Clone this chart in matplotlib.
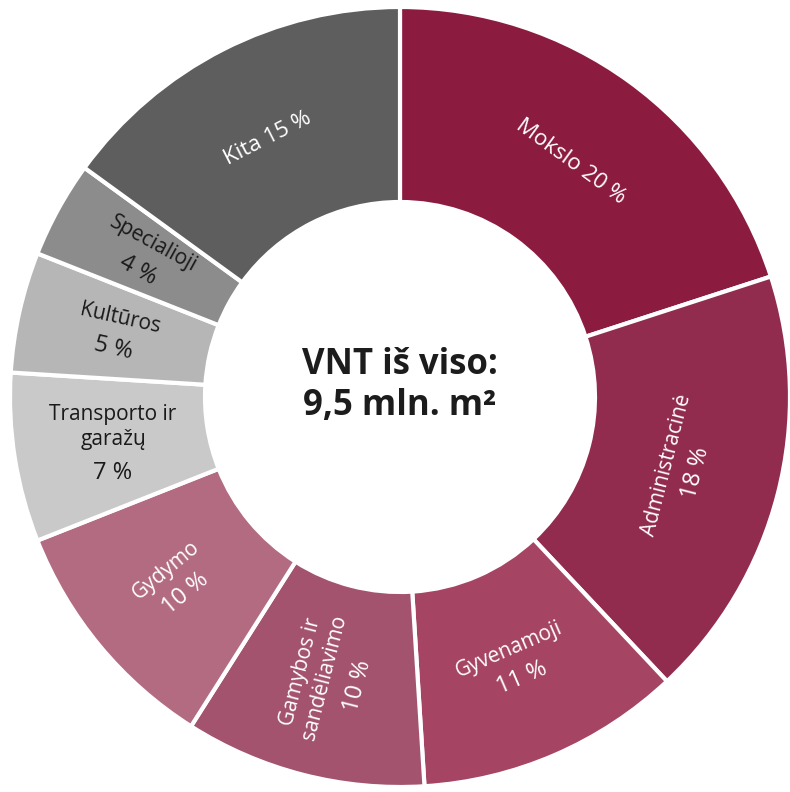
import numpy as np
import matplotlib
matplotlib.use("Agg")
import matplotlib.pyplot as plt

# data
labels = ["Mokslo", "Administracinė", "Gyvenamoji", "Gamybos ir\nsandėliavimo",
          "Gydymo", "Transporto ir\ngaražų", "Kultūros", "Specialioji", "Kita"]
shares = [20, 18, 11, 10, 10, 7, 5, 4, 15]
center_text = "VNT iš viso:\n9,5 mln. m²"

# style
colors = ["#8C1B40", "#922C4E", "#A64463", "#A3536E", "#B36B82",
          "#C9C9C9", "#B6B6B6", "#8C8C8C", "#5E5E5E"]
text_colors = ["white"] * 5 + ["#1a1a1a"] * 3 + ["white"]
# how each label is turned: along the ring ("tan"), across it ("rad") or flat
modes = ["tan", "tan", "tan", "rad", "rad", "flat", "rad", "rad", "tan"]
one_line = [True, False, False, False, False, False, False, False, True]

plt.rcParams["font.family"] = ["Open Sans", "DejaVu Sans"]

fig = plt.figure(figsize=(7.9, 7.92), dpi=100)
ax = fig.add_axes([0, 0, 1, 1])

wedges, _ = ax.pie(
    shares, radius=1.0, colors=colors, startangle=90, counterclock=False,
    wedgeprops=dict(width=0.5, edgecolor="white", linewidth=3),
)

LINE = 22  # points between label lines
total = sum(shares)
cum = 0
for lab, val, tc, mode, single in zip(labels, shares, text_colors, modes, one_line):
    mid = (cum + val / 2) / total * 360  # clockwise from top
    cum += val
    theta = np.deg2rad(90 - mid)
    x, y = 0.745 * np.cos(theta), 0.745 * np.sin(theta)
    if mode == "tan":
        rot = -mid
    elif mode == "rad":
        rot = 90 - mid
    else:
        rot = 0
    while rot < -90:
        rot += 180
    while rot > 90:
        rot -= 180

    if single:
        ax.text(x, y, f"{lab} {val} %", ha="center", va="center", rotation=rot,
                rotation_mode="anchor", color=tc, fontsize=16)
        continue

    # "up" in the text's own frame
    ux, uy = -np.sin(np.deg2rad(rot)), np.cos(np.deg2rad(rot))
    n_name = lab.count("\n") + 1
    n = n_name + 1
    top = (n - 1) / 2 * LINE
    name_off = top - (n_name - 1) / 2 * LINE
    val_off = -top
    ax.annotate(lab, (x, y), xytext=(ux * name_off, uy * name_off),
                textcoords="offset points", ha="center", va="center",
                rotation=rot, rotation_mode="anchor", color=tc, fontsize=15,
                linespacing=1.25)
    ax.annotate(f"{val} %", (x, y), xytext=(ux * val_off, uy * val_off),
                textcoords="offset points", ha="center", va="center",
                rotation=rot, rotation_mode="anchor", color=tc, fontsize=17)

ax.text(0, 0.03, center_text, ha="center", va="center", fontsize=25,
        fontweight="bold", color="#1c1c1c", linespacing=1.2)

ax.set_xlim(-400 / 390, 390 / 390)
ax.set_ylim(-395 / 390, 397 / 390)
ax.set_aspect("equal")
ax.axis("off")

plt.savefig("out.png", dpi=100)
plt.close()
